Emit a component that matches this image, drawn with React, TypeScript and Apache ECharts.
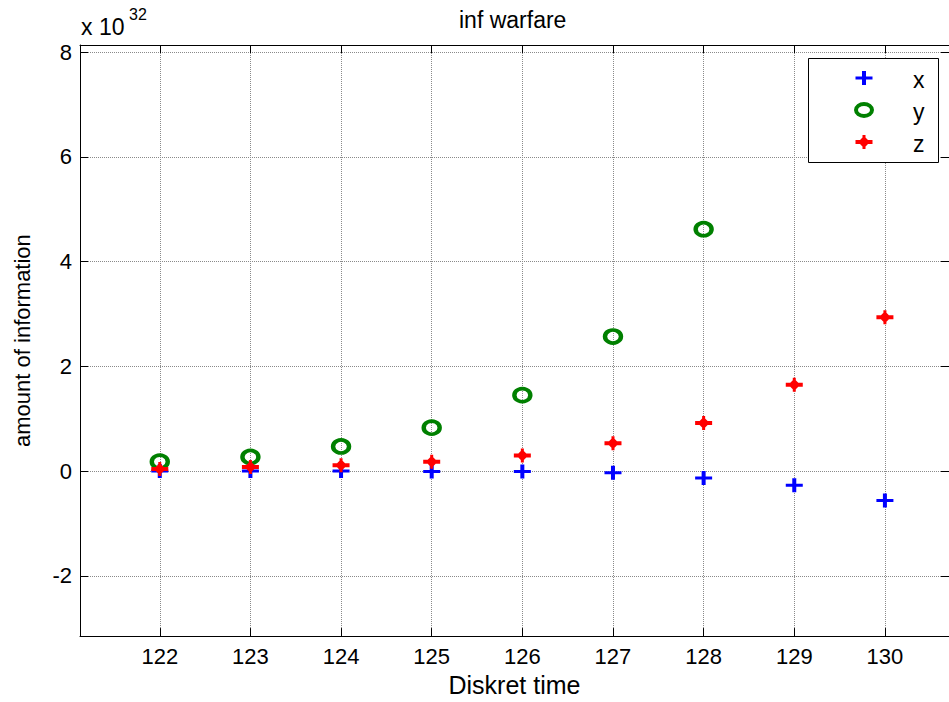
import React, { useEffect, useRef } from 'react';
import * as echarts from 'echarts';

// ---- data (values in units of 1e32) ----
const timeSteps = [122, 123, 124, 125, 126, 127, 128, 129, 130];
const xValues = [0.0, 0.0, 0.0, -0.01, -0.01, -0.03, -0.13, -0.27, -0.56];
const yValues = [0.18, 0.27, 0.47, 0.83, 1.45, 2.57, 4.62]; // 129, 130 lie above the axis limit
const zValues = [0.04, 0.08, 0.11, 0.18, 0.3, 0.53, 0.92, 1.65, 2.94];
const seriesNames = ['x', 'y', 'z'];
const seriesColors = ['#0000ff', '#008000', '#ff0000'];
const xAxisRange = [121.12, 130.707];
const yAxisRange = [-3.152, 8.139];
const titleText = 'inf warfare';
const xAxisTitle = 'Diskret time';
const yAxisTitle = 'amount of information';
const exponentBase = 'x 10';
const exponentPower = '32';

const FONT = "'Liberation Sans', Arial, Helvetica, sans-serif";
const PLUS_PTS = [
  [6.5, 0], [10.5, 0], [10.5, 5.5], [17, 5.5], [17, 8.5], [10.5, 8.5],
  [10.5, 14], [6.5, 14], [6.5, 8.5], [0, 8.5], [0, 5.5], [6.5, 5.5],
];
const STAR_PTS = [
  [7, 0], [10, 0], [10, 2.5], [12.5, 5], [17, 5], [17, 9], [12.5, 9], [10, 11.5],
  [10, 14], [7, 14], [7, 11.5], [4.5, 9], [0, 9], [0, 5], [4.5, 5], [7, 2.5],
];
const toPath = (pts: number[][]) =>
  'path://M' + pts.map((p) => p[0] + ',' + p[1]).join('L') + 'Z';
const PLUS = toPath(PLUS_PTS);
const STAR = toPath(STAR_PTS);

export default function App() {
  const ref = useRef<HTMLDivElement>(null);
  useEffect(() => {
    if (!ref.current) return;
    const chart = echarts.init(ref.current, undefined, { renderer: 'svg' });
    const isInt = (v: number) => Math.abs(v - Math.round(v)) < 1e-6;
    const gridLine = { show: true, lineStyle: { color: '#8a8a8a', type: 'dotted' as const, width: 1 } };
    const axisLine = { show: true, onZero: false, lineStyle: { color: '#000', width: 1 } };
    const tick = { show: true, inside: true, length: 8, lineStyle: { color: '#000', width: 1 } };

    // legend box (drawn as graphic for exact placement)
    const lgLeft = 808, lgTop = 58, lgW = 130, lgH = 104;
    const iconX = 864, textX = 913;
    const rowY = [78, 110, 142];
    const shift = (pts: number[][], cx: number, cy: number) =>
      pts.map((p) => [cx - 8.5 + p[0], cy - 7 + p[1]]);
    const legendGraphics: any[] = [
      {
        type: 'rect',
        z: 100,
        shape: { x: lgLeft + 0.5, y: lgTop + 0.5, width: lgW, height: lgH },
        style: { fill: '#fff', stroke: '#000', lineWidth: 1 },
      },
      {
        type: 'polygon',
        z: 101,
        shape: { points: shift(PLUS_PTS, iconX, rowY[0]) },
        style: { fill: seriesColors[0] },
      },
      {
        type: 'ellipse',
        z: 101,
        shape: { cx: iconX, cy: rowY[1], rx: 8, ry: 6 },
        style: { fill: 'none', stroke: seriesColors[1], lineWidth: 4 },
      },
      {
        type: 'polygon',
        z: 101,
        shape: { points: shift(STAR_PTS, iconX, rowY[2]) },
        style: { fill: seriesColors[2] },
      },
      ...seriesNames.map((n, i) => ({
        type: 'text',
        z: 101,
        x: textX,
        y: rowY[i] + 2,
        style: {
          text: n,
          fontFamily: FONT,
          fontSize: 23,
          fill: '#000',
          align: 'left',
          verticalAlign: 'middle',
          textAlign: 'left',
          textVerticalAlign: 'middle',
        },
      })),
    ];

    chart.setOption({
      animation: false,
      backgroundColor: '#fff',
      title: {
        text: titleText,
        left: 459,
        top: 8,
        padding: 0,
        textStyle: { fontFamily: FONT, fontSize: 23, fontWeight: 'normal', color: '#000' },
      },
      grid: { left: 80, top: 45, width: 870, height: 595, containLabel: false },
      xAxis: [
        {
          type: 'value',
          position: 'bottom',
          min: xAxisRange[0],
          max: xAxisRange[1],
          splitNumber: 10,
          name: xAxisTitle,
          nameLocation: 'middle',
          nameGap: 27,
          nameTextStyle: { fontFamily: FONT, fontSize: 25, color: '#000' },
          axisLine,
          axisTick: tick,
          splitLine: gridLine,
          axisLabel: {
            show: true,
            showMinLabel: false,
            showMaxLabel: false,
            margin: 9,
            fontFamily: FONT,
            fontSize: 22,
            color: '#000',
            formatter: (v: number) => (isInt(v) ? String(Math.round(v)) : ''),
          },
        },
        {
          type: 'value',
          position: 'top',
          min: xAxisRange[0],
          max: xAxisRange[1],
          splitNumber: 10,
          axisLine,
          axisTick: tick,
          splitLine: { show: false },
          axisLabel: { show: false },
        },
      ],
      yAxis: [
        {
          type: 'value',
          position: 'left',
          min: yAxisRange[0],
          max: yAxisRange[1],
          splitNumber: 5,
          name: yAxisTitle,
          nameLocation: 'middle',
          nameGap: 47,
          nameRotate: 90,
          nameTextStyle: { fontFamily: FONT, fontSize: 22, color: '#000' },
          axisLine,
          axisTick: tick,
          splitLine: gridLine,
          axisLabel: {
            show: true,
            showMinLabel: false,
            showMaxLabel: false,
            margin: 8,
            fontFamily: FONT,
            fontSize: 22,
            color: '#000',
            formatter: (v: number) =>
              isInt(v) && Math.round(v) % 2 === 0 ? String(Math.round(v)) : '',
          },
        },
        {
          type: 'value',
          position: 'right',
          min: yAxisRange[0],
          max: yAxisRange[1],
          splitNumber: 5,
          axisLine,
          axisTick: tick,
          splitLine: { show: false },
          axisLabel: { show: false },
        },
      ],
      graphic: [
        {
          type: 'text',
          x: 81,
          y: 26.5,
          style: {
            text: exponentBase,
            fontFamily: FONT,
            fontSize: 23,
            fill: '#000',
            align: 'left',
            verticalAlign: 'middle',
            textAlign: 'left',
            textVerticalAlign: 'middle',
          },
        },
        {
          type: 'text',
          x: 129,
          y: 14.5,
          style: {
            text: exponentPower,
            fontFamily: FONT,
            fontSize: 16,
            fill: '#000',
            align: 'left',
            verticalAlign: 'middle',
            textAlign: 'left',
            textVerticalAlign: 'middle',
          },
        },
        ...legendGraphics,
      ],
      series: [
        {
          name: seriesNames[0],
          type: 'scatter',
          symbol: PLUS,
          symbolSize: [17, 14],
          itemStyle: { color: seriesColors[0], opacity: 1 },
          data: timeSteps.map((t, i) => [t, xValues[i]]),
          z: 2,
        },
        {
          name: seriesNames[1],
          type: 'scatter',
          symbol: 'circle',
          symbolSize: [16, 13],
          itemStyle: { color: 'rgba(0,0,0,0)', borderColor: seriesColors[1], borderWidth: 4, opacity: 1 },
          data: yValues.map((v, i) => [timeSteps[i], v]),
          z: 3,
        },
        {
          name: seriesNames[2],
          type: 'scatter',
          symbol: STAR,
          symbolSize: [17, 14],
          itemStyle: { color: seriesColors[2], opacity: 1 },
          data: timeSteps.map((t, i) => [t, zValues[i]]),
          z: 4,
        },
      ],
    });
    return () => chart.dispose();
  }, []);
  return (
    <div
      ref={ref}
      style={{ position: 'fixed', left: 0, top: 0, width: 949, height: 702, background: '#fff' }}
    />
  );
}
